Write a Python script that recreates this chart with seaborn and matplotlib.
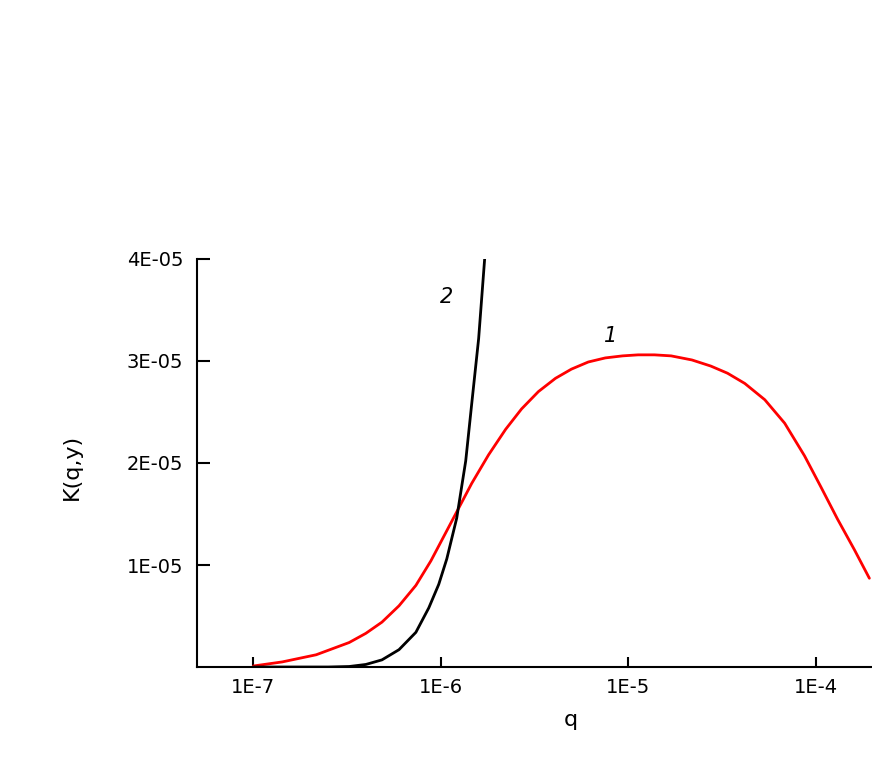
import numpy as np
import pandas as pd
import matplotlib
matplotlib.use('Agg')
import matplotlib.pyplot as plt
import seaborn as sns

# curve 1 (red): log10(q) and K in units of 1e-5
logq_1 = [-7.0, -6.846, -6.665, -6.489, -6.40, -6.314, -6.223, -6.133, -6.053, -5.941,
          -5.835, -5.745, -5.654, -5.569, -5.479, -5.388, -5.303, -5.213, -5.122, -5.03,
          -4.947, -4.86, -4.771, -4.66, -4.559, -4.47, -4.378, -4.271, -4.165, -4.059,
          -3.973, -3.883, -3.793, -3.713]
k_1 = [0.01, 0.05, 0.12, 0.24, 0.33, 0.44, 0.60, 0.80, 1.04, 1.43,
       1.80, 2.08, 2.33, 2.53, 2.70, 2.83, 2.92, 2.99, 3.03, 3.05,
       3.06, 3.06, 3.05, 3.01, 2.95, 2.88, 2.78, 2.62, 2.39, 2.07,
       1.77, 1.45, 1.15, 0.87]

# curve 2 (black)
logq_2 = [-7.0, -6.8, -6.6, -6.489, -6.40, -6.314, -6.223, -6.133, -6.064, -6.011,
          -5.968, -5.915, -5.867, -5.835, -5.798, -5.766]
k_2 = [0.0, 0.0, 0.0, 0.005, 0.025, 0.07, 0.17, 0.34, 0.58, 0.81,
       1.06, 1.46, 2.02, 2.58, 3.22, 4.0]

xticks = [1e-7, 1e-6, 1e-5, 1e-4]
xticklabels = ['1E-7', '1E-6', '1E-5', '1E-4']
yticks = [1e-5, 2e-5, 3e-5, 4e-5]
yticklabels = ['1E-05', '2E-05', '3E-05', '4E-05']

df1 = pd.DataFrame({'q': 10 ** np.array(logq_1), 'K': np.array(k_1) * 1e-5})
df2 = pd.DataFrame({'q': 10 ** np.array(logq_2), 'K': np.array(k_2) * 1e-5})

sns.set_style('white')
plt.rcParams['font.family'] = ['DejaVu Sans']
plt.rcParams['text.color'] = 'black'
plt.rcParams['axes.labelcolor'] = 'black'

fig = plt.figure(figsize=(8.72, 7.63), dpi=100)
ax = fig.add_axes([0.2259, 0.1258, 0.7741, 0.5348])

sns.lineplot(data=df1, x='q', y='K', color='#ff0000', lw=2, ax=ax)
sns.lineplot(data=df2, x='q', y='K', color='black', lw=2, ax=ax)

ax.set_xscale('log')
ax.set_xlim(5e-8, 2e-4)
ax.set_ylim(0, 4e-5)
ax.set_xticks(xticks)
ax.set_xticklabels(xticklabels, fontsize=14)
ax.set_yticks(yticks)
ax.set_yticklabels(yticklabels, fontsize=14)
ax.minorticks_off()
ax.tick_params(axis='x', which='major', bottom=True, direction='in', length=7, width=1.5,
               pad=8, colors='black')
ax.tick_params(axis='y', which='major', left=True, direction='in', length=9, width=1.5,
               pad=10, colors='black')

for s in ['top', 'right']:
    ax.spines[s].set_visible(False)
for s in ['left', 'bottom']:
    ax.spines[s].set_color('black')
    ax.spines[s].set_linewidth(1.5)

ax.set_xlabel('q', fontsize=16)
ax.xaxis.set_label_coords(0.554, -0.105)
ax.set_ylabel('K(q,y)', fontsize=16)
ax.yaxis.set_label_coords(-0.17, 0.49)

ax.text(8.1e-6, 3.24e-5, '1', fontsize=15, style='italic', ha='center', va='center')
ax.text(1.076e-6, 3.63e-5, '2', fontsize=15, style='italic', ha='center', va='center')

fig.savefig('out.png', dpi=100)
